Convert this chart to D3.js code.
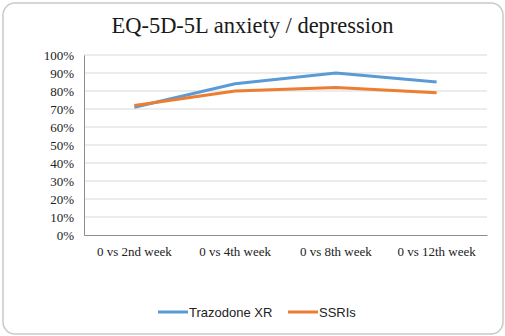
<!DOCTYPE html>
<html>
<head>
<meta charset="utf-8">
<script src="https://cdn.jsdelivr.net/npm/d3@7"></script>
<style>
    body { margin: 0; background: #fff; }
</style>
</head>
<body>
<div id="chart"></div>
<script>
// EQ-5D-5L anxiety / depression line chart

const categories = ['0 vs 2nd week', '0 vs 4th week', '0 vs 8th week', '0 vs 12th week'];
const trazodone = [71, 84, 90, 85];
const ssris = [72, 80, 82, 79];
const yTicks = [0, 10, 20, 30, 40, 50, 60, 70, 80, 90, 100];
const seriesNames = ['Trazodone XR', 'SSRIs'];
const colors = ['#5B9BD5', '#ED7D31'];

function createChart() {
    const W = 505, H = 336;
    const margin = { top: 55, right: 18, bottom: 101, left: 84 };
    const width = W - margin.left - margin.right;
    const height = H - margin.top - margin.bottom;

    const root = d3.select('#chart').append('svg')
        .attr('width', W)
        .attr('height', H);

    // Outer frame
    root.append('rect')
        .attr('x', 3).attr('y', 3)
        .attr('width', W - 5).attr('height', H - 5)
        .attr('rx', 12)
        .attr('fill', '#fff')
        .attr('stroke', '#c9c9c9')
        .attr('stroke-width', 1.5);

    // Title
    root.append('text')
        .attr('x', W / 2)
        .attr('y', 33)
        .attr('text-anchor', 'middle')
        .attr('font-family', '"Liberation Serif", "Times New Roman", serif')
        .attr('font-size', '22.5px')
        .attr('fill', '#1a1a1a')
        .text('EQ-5D-5L anxiety / depression');

    const svg = root.append('g')
        .attr('transform', `translate(${margin.left},${margin.top})`);

    // Scales
    const x = d3.scaleBand()
        .domain(categories)
        .range([0, width]);

    const y = d3.scaleLinear()
        .domain([0, 100])
        .range([height, 0]);

    // Grid
    svg.append('g')
        .selectAll('line')
        .data(yTicks.filter(d => d > 0))
        .enter()
        .append('line')
        .attr('x1', 0).attr('x2', width)
        .attr('y1', d => y(d)).attr('y2', d => y(d))
        .attr('stroke', '#d9d9d9')
        .attr('stroke-width', 1);

    // Y axis
    const yAxis = svg.append('g')
        .call(d3.axisLeft(y).tickValues(yTicks).tickSize(0).tickPadding(10).tickFormat(d => d + '%'));
    yAxis.select('.domain').attr('stroke', '#8c8c8c');
    yAxis.selectAll('text')
        .attr('font-family', '"Liberation Serif", "Times New Roman", serif')
        .attr('font-size', '13px')
        .attr('fill', '#222');

    // X axis
    const xAxis = svg.append('g')
        .attr('transform', `translate(0,${height})`)
        .call(d3.axisBottom(x).tickSize(0).tickPadding(12));
    xAxis.select('.domain').attr('stroke', '#8c8c8c');
    xAxis.selectAll('text')
        .attr('font-family', '"Liberation Serif", "Times New Roman", serif')
        .attr('font-size', '13px')
        .attr('fill', '#222');

    // Lines
    const line = d3.line()
        .x((d, i) => x(categories[i]) + x.bandwidth() / 2)
        .y(d => y(d));

    [trazodone, ssris].forEach((s, i) => {
        svg.append('path')
            .datum(s)
            .attr('fill', 'none')
            .attr('stroke', colors[i])
            .attr('stroke-width', 3)
            .attr('stroke-linejoin', 'round')
            .attr('d', line);
    });

    // Legend
    const legend = root.append('g')
        .attr('transform', 'translate(158,312)');
    const offsets = [0, 130];
    seriesNames.forEach((name, i) => {
        const g = legend.append('g').attr('transform', `translate(${offsets[i]},0)`);
        g.append('line')
            .attr('x1', 0).attr('x2', 30)
            .attr('y1', 0).attr('y2', 0)
            .attr('stroke', colors[i])
            .attr('stroke-width', 3);
        g.append('text')
            .attr('x', 31)
            .attr('y', 0)
            .attr('dy', '0.35em')
            .attr('font-family', '"Liberation Sans", Arial, sans-serif')
            .attr('font-size', '13px')
            .attr('fill', '#222')
            .text(name);
    });
}

createChart();
</script>
</body>
</html>
